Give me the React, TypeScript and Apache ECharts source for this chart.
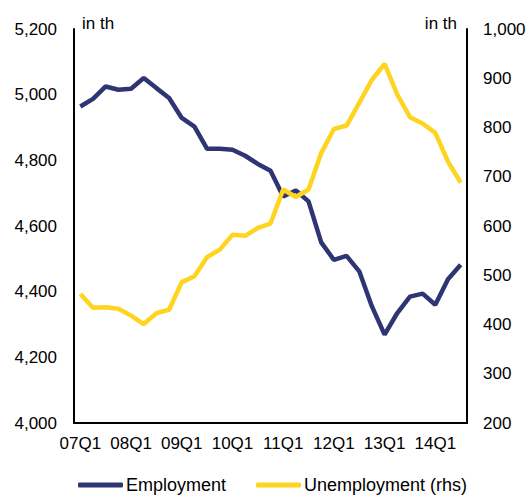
import React, { useEffect, useRef } from "react";
import * as echarts from "echarts";

const quarters: string[] = [
  "07Q1","07Q2","07Q3","07Q4",
  "08Q1","08Q2","08Q3","08Q4",
  "09Q1","09Q2","09Q3","09Q4",
  "10Q1","10Q2","10Q3","10Q4",
  "11Q1","11Q2","11Q3","11Q4",
  "12Q1","12Q2","12Q3","12Q4",
  "13Q1","13Q2","13Q3","13Q4",
  "14Q1","14Q2","14Q3",
];

const employment: number[] = [
  4964, 4987, 5025, 5015, 5018, 5051, 5020, 4990,
  4929, 4903, 4835, 4835, 4832, 4814, 4789, 4768,
  4690, 4708, 4675, 4550, 4497, 4509, 4462, 4355,
  4269, 4335, 4385, 4394, 4360, 4438, 4482,
];

const unemployment: number[] = [
  462, 434, 435, 432, 418, 401, 423, 430,
  486, 498, 537, 552, 582, 580, 596, 605,
  674, 659, 674, 748, 797, 804, 850, 897,
  929, 867, 821, 808, 789, 731, 688,
];

const FONT = "Arial, 'Liberation Sans', sans-serif";
const NAVY = "#2E3572";
const YELLOW = "#FFD41F";

const fmt = (v: number) => v.toLocaleString("en-US");

export default function App() {
  const ref = useRef<HTMLDivElement>(null);
  useEffect(() => {
    if (!ref.current) return;
    const chart = echarts.init(ref.current, undefined, { renderer: "svg" });
    chart.setOption({
      animation: false,
      textStyle: { fontFamily: FONT, color: "#000" },
      grid: { left: 74, right: 62, top: 29, bottom: 72 },
      legend: {
        left: 78,
        top: 476,
        padding: 0,
        itemWidth: 45,
        itemHeight: 5,
        itemGap: 30,
        icon: "roundRect",
        textStyle: { fontFamily: FONT, fontSize: 18, color: "#000", padding: [0, 0, 0, -2] },
        data: ["Employment", "Unemployment (rhs)"],
      },
      graphic: [
        { type: "text", left: 82, top: 15, style: { text: "in th", font: `17px ${FONT}`, fill: "#000" } },
        { type: "text", right: 72, top: 15, style: { text: "in th", font: `17px ${FONT}`, fill: "#000" } },
      ],
      xAxis: {
        type: "category",
        data: quarters,
        boundaryGap: true,
        axisLine: { lineStyle: { color: "#000", width: 2 } },
        axisTick: { show: false },
        axisLabel: { interval: 3, fontSize: 17, color: "#000", margin: 12, fontFamily: FONT },
        splitLine: { show: false },
      },
      yAxis: [
        {
          type: "value",
          min: 4000,
          max: 5200,
          interval: 200,
          position: "left",
          axisLine: { show: true, lineStyle: { color: "#000", width: 2 } },
          axisTick: { show: false },
          splitLine: { show: false },
          axisLabel: { fontSize: 17, color: "#000", margin: 17, formatter: fmt, fontFamily: FONT },
        },
        {
          type: "value",
          min: 200,
          max: 1000,
          interval: 100,
          position: "right",
          axisLine: { show: true, lineStyle: { color: "#000", width: 2 } },
          axisTick: { show: false },
          splitLine: { show: false },
          axisLabel: { fontSize: 17, color: "#000", margin: 16, formatter: fmt, fontFamily: FONT },
        },
      ],
      series: [
        {
          name: "Employment",
          type: "line",
          data: employment,
          yAxisIndex: 0,
          symbol: "none",
          itemStyle: { color: NAVY },
          lineStyle: { color: NAVY, width: 4.5 },
        },
        {
          name: "Unemployment (rhs)",
          type: "line",
          data: unemployment,
          yAxisIndex: 1,
          symbol: "none",
          itemStyle: { color: YELLOW },
          lineStyle: { color: YELLOW, width: 4.5 },
        },
      ],
    });
    return () => chart.dispose();
  }, []);
  return (
    <div
      ref={ref}
      style={{ position: "fixed", left: 0, top: 0, width: 529, height: 495, background: "#fff" }}
    />
  );
}
